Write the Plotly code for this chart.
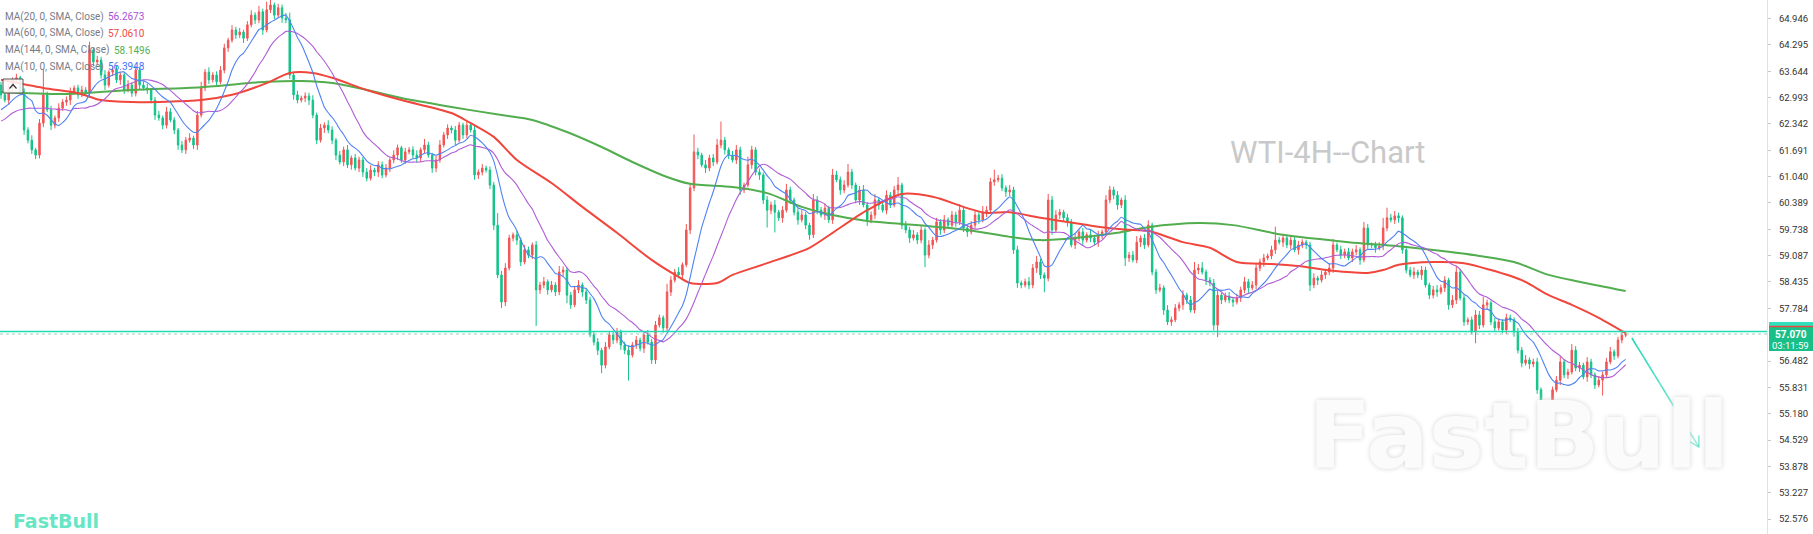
import plotly.graph_objects as go
import pandas as pd

# ---------------- data ----------------
open_first = 63.30
close = [
    63.06, 62.93, 63.23, 63.43, 63.48, 63.13, 62.19, 61.94, 61.70, 61.57,
    62.36, 63.06, 62.69, 62.31, 62.49, 62.73, 62.88, 62.93, 63.13, 63.23,
    63.06, 63.18, 63.13, 64.17, 63.87, 63.92, 63.55, 63.30, 63.62, 63.67,
    63.43, 63.55, 63.18, 63.30, 63.10, 63.67, 63.30, 63.23, 63.18, 62.93,
    62.56, 62.49, 62.31, 62.64, 62.44, 62.19, 61.82, 61.70, 61.94, 61.99,
    61.82, 62.56, 63.23, 63.62, 63.43, 63.55, 63.38, 63.67, 64.22, 64.41,
    64.66, 64.54, 64.61, 64.46, 64.79, 65.03, 64.91, 65.11, 64.66, 65.16,
    65.28, 65.03, 65.21, 64.96, 64.91, 63.55, 63.06, 62.93, 62.98, 63.03,
    62.93, 62.56, 61.94, 62.24, 62.31, 62.19, 61.94, 61.57, 61.40, 61.70,
    61.33, 61.50, 61.25, 61.45, 61.15, 61.00, 61.20, 61.15, 61.33, 61.08,
    61.25, 61.45, 61.57, 61.75, 61.45, 61.65, 61.70, 61.57, 61.50, 61.70,
    61.82, 61.57, 61.25, 61.45, 61.82, 62.07, 62.24, 62.19, 61.94, 62.31,
    62.07, 62.31, 62.19, 61.08, 61.15, 61.25, 61.20, 60.83, 59.84, 58.61,
    57.94, 58.78, 59.52, 59.60, 59.47, 58.93, 59.23, 59.10, 59.35, 58.24,
    58.36, 58.44, 58.24, 58.36, 58.19, 58.68, 58.73, 58.11, 57.87, 58.24,
    58.36, 58.19, 57.99, 57.13, 56.95, 56.75, 56.38, 56.83, 57.13, 57.00,
    57.20, 56.88, 56.75, 56.63, 56.88, 57.00, 56.80, 57.13, 56.95, 56.51,
    57.37, 57.55, 57.30, 58.19, 58.48, 58.68, 58.61, 58.86, 59.72, 60.76,
    61.65, 61.57, 61.33, 61.25, 61.50, 61.40, 61.82, 61.94, 61.70, 61.57,
    61.45, 61.70, 60.71, 60.83, 61.33, 61.70, 61.15, 61.08, 60.46, 60.21,
    60.34, 60.16, 60.02, 60.21, 60.71, 60.46, 60.16, 59.97, 60.09, 59.84,
    59.60, 60.46, 60.21, 60.09, 60.26, 59.97, 61.08, 60.96, 60.71, 60.83,
    61.15, 60.83, 60.46, 60.71, 60.34, 59.97, 60.09, 60.46, 60.34, 60.21,
    60.58, 60.34, 60.71, 60.83, 59.84, 59.72, 59.52, 59.60, 59.47, 59.72,
    59.10, 59.35, 59.47, 59.92, 59.72, 59.97, 59.84, 60.09, 59.92, 60.21,
    59.77, 59.67, 59.84, 60.09, 59.97, 60.16, 60.21, 60.91, 60.96, 61.00,
    60.76, 60.66, 60.71, 59.23, 58.41, 58.36, 58.44, 58.36, 58.78, 58.93,
    58.61, 58.53, 60.46, 59.72, 60.09, 60.16, 60.02, 59.92, 59.35, 59.52,
    59.67, 59.47, 59.60, 59.52, 59.42, 59.60, 59.67, 60.46, 60.71, 60.58,
    60.34, 60.46, 59.03, 59.10, 58.98, 59.42, 59.52, 59.35, 59.84, 58.68,
    58.24, 58.29, 57.74, 57.45, 57.50, 57.79, 57.87, 58.11, 57.99, 57.74,
    58.73, 58.78, 58.68, 58.48, 58.41, 57.37, 58.11, 57.99, 58.09, 57.99,
    57.94, 58.04, 58.24, 58.44, 58.29, 58.36, 58.78, 58.93, 59.03, 59.08,
    59.23, 59.47, 59.42, 59.52, 59.35, 59.47, 59.23, 59.35, 59.42, 59.35,
    58.36, 58.53, 58.48, 58.61, 58.68, 58.78, 59.35, 59.23, 59.10, 59.18,
    59.03, 59.18, 59.23, 58.98, 59.77, 59.35, 59.35, 59.28, 59.32, 59.77,
    60.02, 59.97, 60.07, 60.02, 59.23, 58.73, 58.61, 58.68, 58.61, 58.73,
    58.36, 58.11, 58.24, 58.19, 58.29, 58.48, 57.87, 57.99, 58.68, 58.04,
    57.45, 57.50, 57.20, 57.62, 57.37, 57.87, 57.92, 57.45, 57.30, 57.45,
    57.25, 57.55, 57.50, 57.20, 56.75, 56.43, 56.51, 56.41, 56.46, 55.77,
    55.27, 55.32, 55.40, 55.77, 56.01, 56.46, 56.14, 56.21, 56.75, 56.31,
    56.38, 56.09, 56.46, 56.14, 55.89, 56.01, 56.14, 56.46, 56.71, 56.61,
    57.00, 57.12, 57.15,
]
upper_wick = [
    0.08,0.12,0.10,0.06,0.10,0.05,0.09,0.07,0.12,0.05,
    0.10,0.63,0.08,0.10,0.06,0.12,0.07,0.09,0.11,0.06,
    0.08,0.10,0.07,0.20,0.06,0.10,0.08,0.12,0.05,0.09,
    0.10,0.06,0.08,0.12,0.07,0.10,0.06,0.09,0.11,0.05,
    0.08,0.10,0.06,0.12,0.09,0.07,0.05,0.10,0.08,0.12,
    0.06,0.10,0.15,0.08,0.12,0.07,0.09,0.10,0.10,0.06,
    0.12,0.08,0.10,0.06,0.09,0.12,0.07,0.15,0.08,0.20,
    0.15,0.06,0.10,0.08,0.12,0.18,0.07,0.10,0.06,0.09,
    0.08,0.12,0.06,0.10,0.07,0.12,0.09,0.05,0.10,0.08,
    0.12,0.06,0.10,0.08,0.07,0.10,0.12,0.06,0.09,0.08,
    0.10,0.06,0.12,0.08,0.05,0.10,0.07,0.09,0.12,0.06,
    0.15,0.08,0.06,0.10,0.12,0.07,0.09,0.06,0.10,0.08,
    0.06,0.10,0.08,0.12,0.07,0.10,0.06,0.09,0.08,0.30,
    0.10,0.12,0.08,0.06,0.10,0.07,0.12,0.08,0.06,0.10,
    0.08,0.12,0.06,0.10,0.07,0.15,0.09,0.06,0.08,0.10,
    0.12,0.06,0.10,0.08,0.07,0.10,0.06,0.12,0.09,0.08,
    0.10,0.06,0.08,0.12,0.07,0.10,0.06,0.09,0.12,0.08,
    0.10,0.08,0.06,0.20,0.10,0.08,0.12,0.06,0.15,0.10,
    0.43,0.10,0.06,0.12,0.08,0.10,0.15,0.46,0.08,0.06,
    0.10,0.12,0.08,0.06,0.20,0.10,0.07,0.09,0.06,0.10,
    0.08,0.12,0.06,0.10,0.15,0.08,0.06,0.10,0.12,0.07,
    0.06,0.15,0.10,0.08,0.12,0.06,0.15,0.10,0.08,0.12,
    0.20,0.08,0.06,0.10,0.12,0.07,0.09,0.15,0.06,0.10,
    0.12,0.08,0.10,0.20,0.06,0.10,0.08,0.12,0.07,0.10,
    0.06,0.12,0.08,0.10,0.07,0.12,0.06,0.10,0.08,0.15,
    0.08,0.06,0.10,0.12,0.07,0.15,0.10,0.10,0.25,0.08,
    0.10,0.06,0.12,0.08,0.10,0.06,0.08,0.12,0.10,0.15,
    0.08,0.06,0.15,0.10,0.12,0.08,0.06,0.10,0.07,0.12,
    0.08,0.10,0.06,0.12,0.08,0.10,0.06,0.12,0.10,0.08,
    0.10,0.06,0.12,0.08,0.10,0.15,0.07,0.10,0.12,0.06,
    0.08,0.10,0.06,0.12,0.08,0.10,0.07,0.12,0.06,0.10,
    0.20,0.10,0.15,0.06,0.08,0.10,0.12,0.06,0.08,0.10,
    0.06,0.10,0.08,0.12,0.07,0.10,0.12,0.08,0.10,0.06,
    0.10,0.33,0.08,0.10,0.06,0.12,0.08,0.10,0.07,0.06,
    0.08,0.12,0.06,0.10,0.08,0.12,0.15,0.06,0.10,0.08,
    0.10,0.08,0.12,0.06,0.15,0.10,0.06,0.08,0.10,0.25,
    0.25,0.10,0.12,0.08,0.06,0.10,0.08,0.12,0.06,0.10,
    0.08,0.06,0.10,0.12,0.08,0.10,0.06,0.12,0.15,0.08,
    0.10,0.06,0.08,0.12,0.10,0.20,0.08,0.06,0.10,0.08,
    0.06,0.10,0.08,0.06,0.10,0.08,0.12,0.06,0.08,0.10,
    0.06,0.10,0.12,0.08,0.10,0.15,0.06,0.08,0.15,0.10,
    0.08,0.06,0.12,0.08,0.06,0.10,0.08,0.10,0.12,0.06,
    0.08,0.10,0.05,
]
lower_wick = [
    0.10,0.06,0.12,0.08,0.10,0.07,0.12,0.08,0.10,0.10,
    0.08,0.10,0.06,0.12,0.08,0.10,0.06,0.09,0.12,0.07,
    0.10,0.06,0.08,0.12,0.10,0.07,0.09,0.12,0.06,0.10,
    0.08,0.12,0.10,0.06,0.09,0.08,0.12,0.06,0.10,0.08,
    0.12,0.07,0.10,0.08,0.06,0.10,0.12,0.08,0.10,0.06,
    0.10,0.12,0.06,0.08,0.10,0.07,0.12,0.06,0.08,0.10,
    0.06,0.10,0.08,0.12,0.07,0.06,0.10,0.08,0.12,0.06,
    0.08,0.10,0.06,0.12,0.08,0.10,0.12,0.08,0.06,0.10,
    0.12,0.08,0.10,0.06,0.12,0.08,0.10,0.12,0.06,0.10,
    0.08,0.12,0.06,0.10,0.12,0.08,0.06,0.10,0.12,0.08,
    0.06,0.10,0.08,0.12,0.07,0.10,0.06,0.08,0.12,0.10,
    0.08,0.06,0.12,0.10,0.07,0.06,0.10,0.08,0.12,0.06,
    0.10,0.08,0.06,0.12,0.10,0.08,0.06,0.10,0.12,0.08,
    0.15,0.10,0.06,0.08,0.12,0.10,0.06,0.08,0.10,0.89,
    0.10,0.08,0.12,0.06,0.10,0.08,0.12,0.20,0.10,0.06,
    0.08,0.12,0.10,0.06,0.08,0.12,0.20,0.08,0.06,0.10,
    0.08,0.12,0.10,0.63,0.06,0.10,0.08,0.12,0.06,0.10,
    0.10,0.06,0.12,0.08,0.10,0.06,0.08,0.12,0.06,0.10,
    0.08,0.10,0.06,0.12,0.08,0.10,0.06,0.08,0.12,0.10,
    0.06,0.10,0.12,0.08,0.06,0.10,0.08,0.12,0.10,0.43,
    0.10,0.50,0.08,0.12,0.06,0.10,0.08,0.12,0.06,0.10,
    0.12,0.08,0.10,0.06,0.12,0.08,0.10,0.06,0.12,0.08,
    0.06,0.10,0.08,0.12,0.06,0.15,0.08,0.10,0.12,0.06,
    0.10,0.08,0.06,0.12,0.10,0.08,0.12,0.06,0.10,0.08,
    0.30,0.08,0.10,0.06,0.12,0.08,0.10,0.06,0.12,0.08,
    0.10,0.12,0.06,0.08,0.10,0.06,0.12,0.08,0.10,0.06,
    0.08,0.12,0.10,0.10,0.12,0.08,0.06,0.10,0.08,0.12,
    0.10,0.35,0.08,0.12,0.06,0.10,0.08,0.12,0.06,0.10,
    0.08,0.12,0.06,0.10,0.08,0.12,0.10,0.06,0.08,0.10,
    0.12,0.08,0.20,0.10,0.06,0.08,0.12,0.10,0.06,0.08,
    0.10,0.06,0.12,0.08,0.10,0.06,0.08,0.12,0.10,0.06,
    0.08,0.10,0.06,0.12,0.08,0.13,0.30,0.10,0.06,0.08,
    0.12,0.06,0.10,0.08,0.12,0.06,0.10,0.08,0.12,0.06,
    0.08,0.10,0.06,0.12,0.08,0.10,0.06,0.12,0.08,0.10,
    0.15,0.08,0.12,0.06,0.10,0.08,0.12,0.06,0.10,0.08,
    0.06,0.10,0.08,0.12,0.06,0.10,0.08,0.12,0.06,0.10,
    0.08,0.06,0.10,0.12,0.10,0.08,0.06,0.10,0.08,0.12,
    0.06,0.10,0.08,0.12,0.06,0.10,0.12,0.08,0.10,0.06,
    0.10,0.08,0.06,0.28,0.10,0.06,0.12,0.08,0.10,0.06,
    0.08,0.10,0.06,0.12,0.08,0.10,0.06,0.12,0.08,0.10,
    0.33,0.20,0.08,0.10,0.06,0.12,0.08,0.10,0.06,0.08,
    0.10,0.06,0.12,0.08,0.10,0.06,0.38,0.08,0.06,0.10,
    0.06,0.08,0.05,
]

# first values of the short MAs (before a full window exists)
ma10_head = [62.69, 62.76, 62.83, 62.93, 63.01, 63.06, 63.06, 62.98, 62.91]
ma20_head = [62.41, 62.46, 62.54, 62.61, 62.66, 62.69, 62.71, 62.73, 62.73, 62.73,
             62.73, 62.73, 62.73, 62.71, 62.71, 62.69, 62.69, 62.69, 62.66]

# MA60 / MA144 at bar indices
ma60_idx = [0, 11, 20, 26, 34, 52, 60, 69, 75, 81, 86, 95, 104, 117, 122, 128, 134, 143,
            151, 160, 169, 176, 179, 186, 190, 199, 210, 216, 225, 234, 242, 251, 256,
            262, 270, 277, 286, 294, 298, 307, 314, 321, 330, 337, 346, 355, 359, 363,
            372, 380, 387, 395, 402, 408, 415, 422]
ma60_val = [63.43, 63.23, 63.10, 62.93, 62.88, 62.93, 63.06, 63.35, 63.60, 63.60, 63.48,
            63.18, 62.93, 62.61, 62.36, 62.02, 61.45, 60.88, 60.29, 59.65, 58.98, 58.56,
            58.41, 58.41, 58.61, 58.90, 59.28, 59.65, 60.21, 60.61, 60.54, 60.26, 60.14,
            60.16, 60.02, 59.92, 59.79, 59.72, 59.70, 59.42, 59.28, 58.93, 58.88, 58.83,
            58.71, 58.66, 58.73, 58.86, 58.93, 58.90, 58.73, 58.48, 58.11, 57.87, 57.55,
            57.17]
ma144_idx = [0, 17, 34, 52, 69, 78, 86, 95, 104, 117, 130, 138, 147, 156, 164, 173, 179,
             190, 199, 208, 216, 225, 234, 251, 262, 270, 279, 290, 298, 311, 320, 333,
             350, 363, 376, 384, 393, 402, 410, 422]
ma144_val = [63.13, 63.08, 63.18, 63.25, 63.38, 63.40, 63.35, 63.18, 62.98, 62.76, 62.56,
             62.44, 62.14, 61.77, 61.40, 61.03, 60.86, 60.78, 60.63, 60.29, 60.09, 59.94,
             59.87, 59.72, 59.55, 59.47, 59.52, 59.65, 59.79, 59.89, 59.84, 59.60, 59.42,
             59.32, 59.18, 59.08, 58.93, 58.61, 58.44, 58.21]

tick_vals = [64.946, 64.295, 63.644, 62.993, 62.342, 61.691, 61.040, 60.389, 59.738,
             59.087, 58.435, 57.784, 56.482, 55.831, 55.180, 54.529, 53.878, 53.227, 52.576]
tick_text = ["64.946", "64.295", "63.644", "62.993", "62.342", "61.691", "61.040", "60.389",
             "59.738", "59.087", "58.435", "57.784", "56.482", "55.831", "55.180", "54.529",
             "53.878", "53.227", "52.576"]

legend_labels = ["MA(20, 0, SMA, Close)", "MA(60, 0, SMA, Close)",
                 "MA(144, 0, SMA, Close)", "MA(10, 0, SMA, Close)"]
legend_values = ["56.2673", "57.0610", "58.1496", "56.3948"]

last_price_text = "57.070"
countdown_text = "03:11:59"
last_price = 57.15
hline_price = 57.21
arrow_start = (423.6, 57.05)
arrow_end = (441.0, 54.36)
arrow_wing_a = (441.0, 54.65)
arrow_wing_b = (438.2, 54.51)

# ---------------- styling ----------------
RED = "#f25555"
GREEN = "#12c389"
C_MA10 = "#4f82f3"
C_MA20 = "#b05cd6"
C_MA60 = "#f0463c"
C_MA144 = "#52ad4f"
legend_colors = ["#a74fd3", "#f04a40", "#54b050", "#3f72f5"]
TEAL = "#22dcb5"
FONT = "Roboto"

W, H = 1813, 534
PW = 1767  # plot area width in px


def px(x):
    return x / PW


def py(y):
    return 1 - y / H


n = len(close)
idx = list(range(n))
opens = [open_first] + close[:-1]
highs = [max(o, c) + u for o, c, u in zip(opens, close, upper_wick)]
lows = [min(o, c) - l for o, c, l in zip(opens, close, lower_wick)]

s = pd.Series(close)
ma10 = s.rolling(10).mean().tolist()
ma20 = s.rolling(20).mean().tolist()
for i, v in enumerate(ma10_head):
    ma10[i] = v
for i, v in enumerate(ma20_head):
    ma20[i] = v

fig = go.Figure()
fig.add_trace(go.Candlestick(
    x=idx, open=opens, high=highs, low=lows, close=close,
    increasing=dict(line=dict(color=RED, width=1), fillcolor=RED),
    decreasing=dict(line=dict(color=GREEN, width=1), fillcolor=GREEN),
    whiskerwidth=0, hoverinfo="skip", showlegend=False))

fig.add_trace(go.Scatter(x=ma144_idx, y=ma144_val, mode="lines",
                         line=dict(color=C_MA144, width=2, shape="spline", smoothing=0.8),
                         hoverinfo="skip", showlegend=False))
fig.add_trace(go.Scatter(x=ma60_idx, y=ma60_val, mode="lines",
                         line=dict(color=C_MA60, width=2, shape="spline", smoothing=0.8),
                         hoverinfo="skip", showlegend=False))
fig.add_trace(go.Scatter(x=idx, y=ma20, mode="lines",
                         line=dict(color=C_MA20, width=1.1, shape="spline", smoothing=0.6),
                         hoverinfo="skip", showlegend=False))
fig.add_trace(go.Scatter(x=idx, y=ma10, mode="lines",
                         line=dict(color=C_MA10, width=1.1, shape="spline", smoothing=0.6),
                         hoverinfo="skip", showlegend=False))

# fading arrow
nseg = 12
for k in range(nseg):
    t0, t1 = k / nseg, (k + 1) / nseg
    xa = arrow_start[0] + (arrow_end[0] - arrow_start[0]) * t0
    xb = arrow_start[0] + (arrow_end[0] - arrow_start[0]) * t1
    ya = arrow_start[1] + (arrow_end[1] - arrow_start[1]) * t0
    yb = arrow_start[1] + (arrow_end[1] - arrow_start[1]) * t1
    op = 1.0 - 0.6 * t0
    fig.add_trace(go.Scatter(x=[xa, xb], y=[ya, yb], mode="lines",
                             line=dict(color=f"rgba(34,214,180,{op:.2f})", width=1.6),
                             hoverinfo="skip", showlegend=False))
fig.add_trace(go.Scatter(x=[arrow_wing_a[0], arrow_end[0], arrow_wing_b[0]],
                         y=[arrow_wing_a[1], arrow_end[1], arrow_wing_b[1]], mode="lines",
                         line=dict(color="rgba(34,214,180,0.5)", width=1.6),
                         hoverinfo="skip", showlegend=False))

shapes = [
    dict(type="line", xref="paper", yref="y", x0=0, x1=1, y0=hline_price, y1=hline_price,
         line=dict(color=TEAL, width=1.5)),
    dict(type="line", xref="paper", yref="y", x0=0, x1=1, y0=last_price, y1=last_price,
         line=dict(color="#9ccfbf", width=1, dash="dot")),
    # price tag
    dict(type="rect", xref="paper", yref="paper", x0=px(1769), x1=px(1813),
         y0=py(327), y1=py(322), fillcolor="#2fe0bd", line=dict(width=0)),
    dict(type="rect", xref="paper", yref="paper", x0=px(1769), x1=px(1813),
         y0=py(351), y1=py(326), fillcolor="#19bf88", line=dict(width=0)),
    dict(type="rect", xref="paper", yref="paper", x0=px(1769), x1=px(1813),
         y0=py(327.3), y1=py(325.8), fillcolor="#f0463c", line=dict(width=0)),
    # collapse button
    dict(type="rect", xref="paper", yref="paper", x0=px(3), x1=px(23), y0=py(93), y1=py(79),
         fillcolor="rgba(255,255,255,0.85)", line=dict(color="#555555", width=1)),
    dict(type="path", xref="paper", yref="paper",
         path=f"M {px(9.5)} {py(88.5)} L {px(13)} {py(84.5)} L {px(16.5)} {py(88.5)}",
         line=dict(color="#333333", width=1.2)),
]

annotations = []
label_x = [3, 3, 3, 3]
value_x = [106, 106, 112, 106]
row_y = [16.7, 33.3, 50, 66.7]
for lab, val, col, lx, vx, ry in zip(legend_labels, legend_values, legend_colors, label_x, value_x, row_y):
    annotations.append(dict(xref="paper", yref="paper", x=px(lx), y=py(ry), xanchor="left",
                            yanchor="middle", text=lab, showarrow=False,
                            font=dict(family=FONT, size=10, color="#787b86")))
    annotations.append(dict(xref="paper", yref="paper", x=px(vx), y=py(ry), xanchor="left",
                            yanchor="middle", text=val, showarrow=False,
                            font=dict(family=FONT, size=10, color=col)))

annotations += [
    dict(xref="paper", yref="paper", x=px(1327), y=py(153), xanchor="center", yanchor="middle",
         text="WTI-4H--Chart", showarrow=False, font=dict(family=FONT, size=31, color="#c9c9c9")),
    dict(xref="paper", yref="paper", x=px(1519), y=py(436), xanchor="center", yanchor="middle",
         text="<b>FastBull</b>", showarrow=False,
         font=dict(family="DejaVu Sans", size=93, color="#fbfbfb", shadow="0px 0px 5px #d4d4d4")),
    dict(xref="paper", yref="paper", x=px(11), y=py(521), xanchor="left", yanchor="middle",
         text="<b>FastBull</b>", showarrow=False,
         font=dict(family="DejaVu Sans", size=19, color="#66e6c4")),
    dict(xref="paper", yref="paper", x=px(1791), y=py(334), xanchor="center", yanchor="middle",
         text=f"<b>{last_price_text}</b>", showarrow=False,
         font=dict(family=FONT, size=10, color="white")),
    dict(xref="paper", yref="paper", x=px(1791), y=py(345), xanchor="center", yanchor="middle",
         text=countdown_text, showarrow=False, font=dict(family=FONT, size=9.5, color="white")),
]

fig.update_layout(
    width=W, height=H, margin=dict(l=0, r=W - PW, t=0, b=0),
    paper_bgcolor="white", plot_bgcolor="white", showlegend=False, boxgap=0.45,
    xaxis=dict(range=[-0.26, 458.7], visible=False, rangeslider=dict(visible=False),
               showgrid=False, zeroline=False),
    yaxis=dict(range=[52.208, 65.403], side="right", tickmode="array", tickvals=tick_vals,
               ticktext=tick_text, ticks="outside", ticklen=3, tickcolor="#c8c8c8",
               showline=True, linecolor="#e2e2e2", linewidth=1, showgrid=False,
               zeroline=False, automargin=False, ticklabelstandoff=6,
               tickfont=dict(family=FONT, size=9.5, color="#333333")),
    shapes=shapes, annotations=annotations,
)

fig.write_html(
    "out.html",
    config={"displayModeBar": False},
    post_script="document.body.style.margin='0';document.body.style.padding='0';"
                "document.body.style.overflow='hidden';"
                "document.documentElement.style.overflow='hidden';",
)
